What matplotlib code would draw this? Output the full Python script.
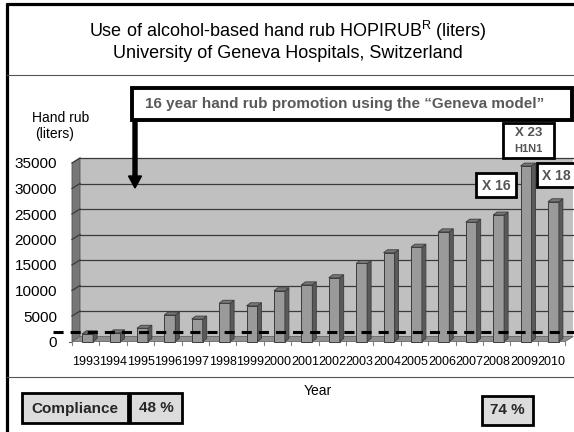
import matplotlib
matplotlib.use("Agg")
import matplotlib.pyplot as plt
from matplotlib.patches import Rectangle, Polygon, FancyArrow

plt.rcParams['font.family'] = ['Liberation Sans', 'DejaVu Sans']
plt.rcParams['mathtext.fontset'] = 'custom'
plt.rcParams['mathtext.rm'] = 'Liberation Sans'

# data
years = ['1993', '1994', '1995', '1996', '1997', '1998', '1999', '2000', '2001',
         '2002', '2003', '2004', '2005', '2006', '2007', '2008', '2009', '2010']
liters = [1500, 1700, 2600, 5200, 4400, 7500, 7000, 9950, 11100,
          12500, 15300, 17400, 18500, 21500, 23400, 24800, 34400, 27400]
yticks = [0, 5000, 10000, 15000, 20000, 25000, 30000, 35000]
baseline = 1800
compliance_start = '48 %'
compliance_end = '74 %'

W, H = 574, 432
fig = plt.figure(figsize=(W / 100, H / 100), dpi=100)

# pixel layout of the front plane of the 3d chart
px_x0, px_cat = 72.0, 27.4          # left edge, width of one category
px_y0, px_unit = 341.5, 178.5 / 35000
ax_l, ax_r, ax_t, ax_b = 60, 574, 150, 350

ax = fig.add_axes([ax_l / W, (H - ax_b) / H, (ax_r - ax_l) / W, (ax_b - ax_t) / H])
ax.set_xlim(-0.5 - (px_x0 - ax_l) / px_cat, -0.5 + (ax_r - px_x0) / px_cat)
ax.set_ylim((px_y0 - ax_b) / px_unit, (px_y0 - ax_t) / px_unit)
ax.patch.set_visible(False)
for s in ax.spines.values():
    s.set_visible(False)

n = len(years)
x0, x1 = -0.5, n - 0.5
ymax = yticks[-1]
dx, dy = 8 / px_cat, 5 / px_unit        # depth of the walls
bdx, bdy = 4 / px_cat, 3 / px_unit      # depth of the bars

# walls and floor
ax.add_patch(Polygon([(x0 + dx, dy), (x1 + dx, dy), (x1 + dx, ymax + dy), (x0 + dx, ymax + dy)],
                     closed=True, fc='#c0c0c0', ec='none', zorder=0))
ax.add_patch(Polygon([(x0, 0), (x0 + dx, dy), (x0 + dx, ymax + dy), (x0, ymax)],
                     closed=True, fc='#777777', ec='#555555', lw=0.6, zorder=0))
ax.add_patch(Polygon([(x0, 0), (x1, 0), (x1 + dx, dy), (x0 + dx, dy)],
                     closed=True, fc='#8f8f8f', ec='#666666', lw=0.6, zorder=0))
for v in yticks[1:]:
    ax.plot([x0 + dx, x1 + dx], [v + dy, v + dy], color='#3a3a3a', lw=0.9, zorder=1)
    ax.plot([x0, x0 + dx], [v, v + dy], color='#3a3a3a', lw=0.9, zorder=1)
ax.plot([x0 - 0.12, x0], [0, 0], color='#606060', lw=0.8)
for i in range(n + 1):
    ax.plot([i - 0.5, i - 0.5], [0, -700], color='#808080', lw=0.8, clip_on=False)

# bars with side and top faces
bars = ax.bar([i + 0.07 for i in range(n)], liters, width=0.4,
              color='#9a9a9a', edgecolor='#3c3c3c', lw=0.7, zorder=3)
for p in bars.patches:
    bx, bw, bh = p.get_x(), p.get_width(), p.get_height()
    ax.add_patch(Polygon([(bx + bw, 0), (bx + bw + bdx, bdy), (bx + bw + bdx, bh + bdy), (bx + bw, bh)],
                         closed=True, fc='#5a5a5a', ec='#3c3c3c', lw=0.6, zorder=3))
    ax.add_patch(Polygon([(bx, bh), (bx + bdx, bh + bdy), (bx + bw + bdx, bh + bdy), (bx + bw, bh)],
                         closed=True, fc='#777777', ec='#3c3c3c', lw=0.6, zorder=3))

ax.plot([x0 - 0.69, ax.get_xlim()[1]], [baseline, baseline], color='k', lw=2.2,
        dashes=(3.3, 2.3), zorder=5, clip_on=False)

ax.set_yticks(yticks)
ax.set_yticklabels([str(v) for v in yticks], fontsize=11)
ax.set_xticks(range(n))
ax.set_xticklabels(years, fontsize=9)
ax.tick_params(length=0)
ax.tick_params(axis='y', pad=2.2)
ax.tick_params(axis='x', pad=4.0)

# overlay in pixel coordinates for frame and annotations
ov = fig.add_axes([0, 0, 1, 1], zorder=10)
ov.set_xlim(0, W)
ov.set_ylim(H, 0)
ov.axis('off')

ov.plot([6.5, 6.5], [2.5, H], color='k', lw=2.3, solid_capstyle='butt')
ov.plot([5.5, W], [3.5, 3.5], color='k', lw=2.3, solid_capstyle='butt')
ov.plot([6.5, W], [75, 75], color='#555555', lw=0.8)
ov.plot([6.5, W], [377, 377], color='#555555', lw=0.8)

ov.text(288, 31, 'Use of alcohol-based hand rub HOPIRUB$^{\\mathrm{R}}$ (liters)',
        ha='center', va='center', fontsize=13)
ov.text(288, 53, 'University of Geneva Hospitals, Switzerland',
        ha='center', va='center', fontsize=13)
ov.text(61, 118, 'Hand rub', ha='center', va='center', fontsize=10)
ov.text(55, 134, '(liters)', ha='center', va='center', fontsize=10)

ov.add_patch(Rectangle((132, 88), 440, 32, fc='white', ec='k', lw=2.8))
ov.text(145, 104, '16 year hand rub promotion using the \u201cGeneva model\u201d',
        ha='left', va='center', fontsize=11, fontweight='bold', color='#595959')
ov.add_patch(FancyArrow(135, 122, 0, 66, width=4, head_width=13, head_length=12,
                        length_includes_head=True, color='k'))

ov.add_patch(Rectangle((503, 123), 51, 35, fc='white', ec='k', lw=2))
ov.text(528.5, 133, 'X 23', ha='center', va='center', fontsize=9.5, fontweight='bold', color='#555555')
ov.text(528.5, 149, 'H1N1', ha='center', va='center', fontsize=8, fontweight='bold', color='#555555')
ov.add_patch(Rectangle((476, 173), 40, 24, fc='white', ec='k', lw=2))
ov.text(496, 185.5, 'X 16', ha='center', va='center', fontsize=10, fontweight='bold', color='#555555')
ov.add_patch(Rectangle((537, 163), 42, 24, fc='white', ec='k', lw=2))
ov.text(556, 175.5, 'X 18', ha='center', va='center', fontsize=10, fontweight='bold', color='#555555')

ov.text(318, 391, 'Year', ha='center', va='center', fontsize=10)
ov.add_patch(Rectangle((22, 393), 106, 30, fc='#dcdcdc', ec='k', lw=2))
ov.text(75, 408.5, 'Compliance', ha='center', va='center', fontsize=11, fontweight='bold', color='#262626')
ov.add_patch(Rectangle((130, 393), 52, 30, fc='#dcdcdc', ec='k', lw=2))
ov.text(156, 408.5, compliance_start, ha='center', va='center', fontsize=11, fontweight='bold', color='#262626')
ov.add_patch(Rectangle((482, 396), 51, 29, fc='#dcdcdc', ec='k', lw=2))
ov.text(507.5, 410.5, compliance_end, ha='center', va='center', fontsize=11, fontweight='bold', color='#262626')

fig.savefig('out.png', dpi=100)
